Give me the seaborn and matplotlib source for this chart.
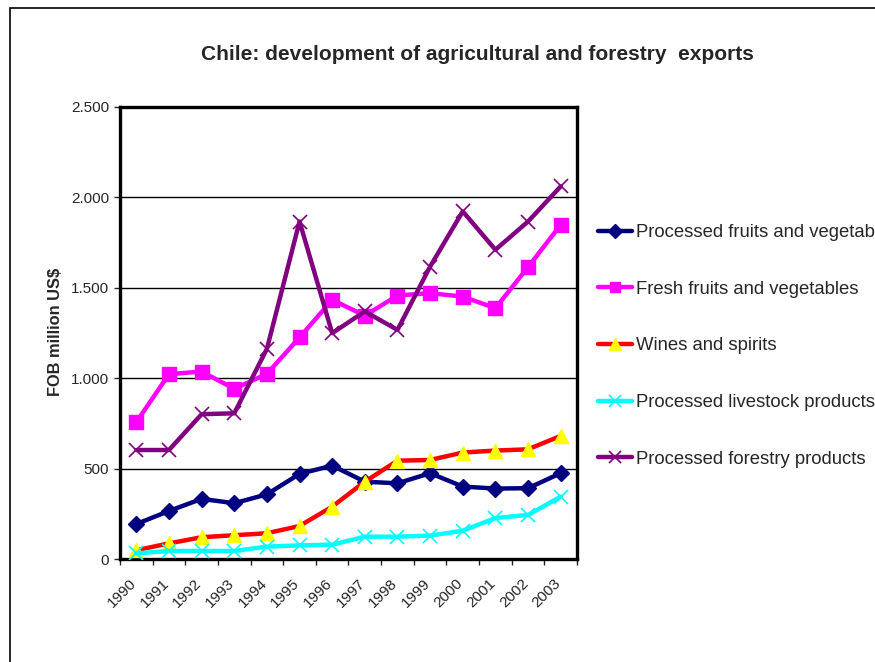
import numpy as np
import pandas as pd
import matplotlib
matplotlib.use("Agg")
import matplotlib.pyplot as plt
import matplotlib.transforms as mtransforms
from matplotlib.patches import Rectangle
from matplotlib.ticker import FuncFormatter, FixedLocator
import seaborn as sns

years = [1990, 1991, 1992, 1993, 1994, 1995, 1996, 1997, 1998, 1999, 2000, 2001, 2002, 2003]
processed_fruits = [195, 267, 334, 310, 359, 472, 518, 429, 420, 476, 402, 391, 393, 476]
fresh_fruits = [758, 1023, 1038, 942, 1025, 1226, 1434, 1347, 1458, 1471, 1452, 1388, 1615, 1849]
wines = [50, 88, 122, 133, 144, 184, 291, 429, 545, 549, 590, 601, 608, 682]
livestock = [33, 46, 46, 46, 70, 77, 81, 125, 125, 131, 158, 228, 245, 346]
forestry = [604, 604, 802, 807, 1163, 1867, 1250, 1370, 1268, 1618, 1923, 1711, 1867, 2061]

series_names = ["Processed fruits and vegetables", "Fresh fruits and vegetables",
                "Wines and spirits", "Processed livestock products",
                "Processed forestry products"]
series_values = [processed_fruits, fresh_fruits, wines, livestock, forestry]

title = "Chile: development of agricultural and forestry  exports"
ylabel = "FOB million US$"

df = pd.DataFrame({"year": years * len(series_names),
                   "series": np.repeat(series_names, len(years)),
                   "value": np.concatenate(series_values)})

sns.set_style("white")
plt.rcParams["font.family"] = ["Liberation Sans", "DejaVu Sans"]

fig = plt.figure(figsize=(8.75, 6.62), dpi=100)
ax = fig.add_axes([120 / 875, 1 - 559.3 / 662, 457 / 875, 452.3 / 662])

styles = {
    "Processed fruits and vegetables": dict(color="#000080", marker="D", ms=8.5, mfc="#000080", mec="#000080", mew=1),
    "Fresh fruits and vegetables": dict(color="#FF00FF", marker="s", ms=9.5, mfc="#FF00FF", mec="#FF00FF", mew=1),
    "Wines and spirits": dict(color="#FF0000", marker="^", ms=10.5, mfc="#FFFF00", mec="#FFFF00", mew=1),
    "Processed livestock products": dict(color="#00FFFF", marker="x", ms=10, mfc="#00FFFF", mec="#00FFFF", mew=1.2),
    "Processed forestry products": dict(color="#800080", marker="x", ms=10, mfc="#800080", mec="#800080", mew=1.2),
}

for name in series_names:
    st = styles[name]
    sub = df[df["series"] == name]
    sns.lineplot(data=sub, x="year", y="value", ax=ax, color=st["color"], linewidth=3.2,
                 marker=st["marker"], markersize=st["ms"], markerfacecolor=st["mfc"],
                 markeredgecolor=st["mec"], markeredgewidth=st["mew"], label=name,
                 legend=False, zorder=3)

ax.set_xlim(years[0] - 0.5, years[-1] + 0.5)
ax.set_ylim(0, 2500)
ax.set_yticks([0, 500, 1000, 1500, 2000, 2500])
ax.yaxis.set_major_formatter(FuncFormatter(lambda v, p: f"{v:,.0f}".replace(",", ".")))
ax.yaxis.grid(True, color="black", linewidth=1.0, zorder=1)
ax.xaxis.grid(False)
ax.set_axisbelow(True)

# tick marks at category boundaries, labels at category centres
ax.set_xticks(years)
ax.set_xticklabels([str(y) for y in years])
ax.xaxis.set_minor_locator(FixedLocator(np.arange(years[0] - 0.5, years[-1] + 1.0, 1.0)))
ax.tick_params(axis="x", which="major", length=0, pad=12, labelsize=11)
ax.tick_params(axis="x", which="minor", length=4, width=1, direction="out", bottom=True)
ax.tick_params(axis="y", which="major", length=4, width=1, direction="out", left=True, pad=4, labelsize=11)
offset = mtransforms.ScaledTranslation(-7 / 100, 0, fig.dpi_scale_trans)
for lbl in ax.get_xticklabels():
    lbl.set_rotation(45)
    lbl.set_ha("right")
    lbl.set_va("top")
    lbl.set_rotation_mode("anchor")
    lbl.set_transform(lbl.get_transform() + offset)

for sp in ax.spines.values():
    sp.set_visible(True)
    sp.set_color("black")
    sp.set_linewidth(2.4)

ax.set_xlabel("")
ax.set_ylabel(ylabel, fontsize=11.8, fontweight="bold")
ax.yaxis.set_label_coords((63 - 120) / 457, (559.3 - 332) / 452.3)

fig.text(477 / 875, 1 - 55 / 662, title, ha="center", va="center", fontsize=15, fontweight="bold")

handles, labels = ax.get_legend_handles_labels()
fig.legend(handles, labels, loc="upper left", bbox_to_anchor=(598 / 875, 1 - 224 / 662),
           frameon=False, fontsize=13.3, handlelength=1.85, handletextpad=0.2,
           labelspacing=2.15, borderpad=0, borderaxespad=0, markerscale=0.8)

fig.patches.append(Rectangle((10 / 875, -0.1), 1.2, 1.1 - 8 / 662, transform=fig.transFigure,
                             fill=False, edgecolor="black", linewidth=1.2, zorder=0))

fig.savefig("out.png", dpi=100)
